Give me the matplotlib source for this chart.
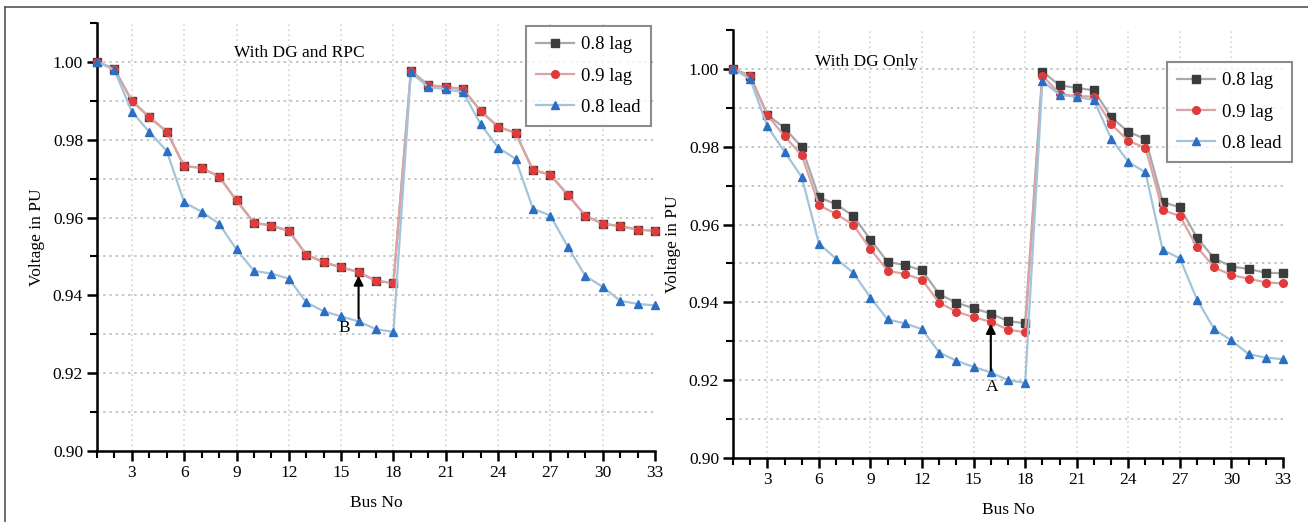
import matplotlib
matplotlib.use("Agg")
import matplotlib.pyplot as plt
from matplotlib.ticker import MultipleLocator, FixedLocator
from matplotlib.lines import Line2D
import numpy as np

plt.rcParams['font.family'] = ['Liberation Serif', 'DejaVu Serif']

bus = list(range(1, 34))

# With DG and RPC
rpc_08lag = [1.000, 0.9982, 0.9900, 0.9858, 0.9821, 0.9732, 0.9728, 0.9705, 0.9644, 0.9587,
             0.9579, 0.9566, 0.9505, 0.9485, 0.9472, 0.9460, 0.9437, 0.9432, 0.9977, 0.9940,
             0.9936, 0.9930, 0.9874, 0.9833, 0.9818, 0.9722, 0.9710, 0.9658, 0.9605, 0.9584,
             0.9578, 0.9569, 0.9566]
rpc_09lag = [1.000, 0.9982, 0.9900, 0.9858, 0.9821, 0.9732, 0.9728, 0.9705, 0.9644, 0.9587,
             0.9579, 0.9566, 0.9505, 0.9485, 0.9472, 0.9460, 0.9437, 0.9432, 0.9977, 0.9940,
             0.9936, 0.9930, 0.9874, 0.9833, 0.9818, 0.9722, 0.9710, 0.9658, 0.9605, 0.9584,
             0.9578, 0.9569, 0.9566]
rpc_08lead = [1.000, 0.9979, 0.9872, 0.9820, 0.9771, 0.9639, 0.9615, 0.9584, 0.9518, 0.9463,
              0.9456, 0.9443, 0.9382, 0.9359, 0.9346, 0.9333, 0.9313, 0.9306, 0.9973, 0.9935,
              0.9930, 0.9922, 0.9840, 0.9780, 0.9751, 0.9623, 0.9605, 0.9525, 0.9450, 0.9422,
              0.9386, 0.9378, 0.9374]

# With DG only
dg_08lag = [1.000, 0.9983, 0.9882, 0.9848, 0.9799, 0.9670, 0.9652, 0.9622, 0.9561, 0.9504,
            0.9496, 0.9482, 0.9421, 0.9399, 0.9385, 0.9371, 0.9352, 0.9346, 0.9993, 0.9958,
            0.9951, 0.9945, 0.9876, 0.9838, 0.9820, 0.9658, 0.9644, 0.9566, 0.9513, 0.9492,
            0.9486, 0.9476, 0.9475]
dg_09lag = [1.000, 0.9981, 0.9881, 0.9827, 0.9778, 0.9650, 0.9627, 0.9599, 0.9537, 0.9481,
            0.9473, 0.9458, 0.9399, 0.9376, 0.9362, 0.9350, 0.9330, 0.9323, 0.9983, 0.9936,
            0.9930, 0.9929, 0.9858, 0.9815, 0.9797, 0.9637, 0.9622, 0.9542, 0.9490, 0.9470,
            0.9461, 0.9451, 0.9449]
dg_08lead = [1.000, 0.9974, 0.9852, 0.9787, 0.9722, 0.9551, 0.9512, 0.9476, 0.9412, 0.9356,
             0.9346, 0.9331, 0.9271, 0.9250, 0.9234, 0.9220, 0.9200, 0.9193, 0.9968, 0.9934,
             0.9928, 0.9920, 0.9821, 0.9761, 0.9734, 0.9535, 0.9513, 0.9407, 0.9331, 0.9302,
             0.9267, 0.9258, 0.9254]

series_labels = ["0.8 lag", "0.9 lag", "0.8 lead"]
xtick_vals = [3, 6, 9, 12, 15, 18, 21, 24, 27, 30, 33]
ytick_vals = [0.90, 0.92, 0.94, 0.96, 0.98, 1.00]

W, H = 1308, 522
fig = plt.figure(figsize=(W / 100, H / 100), dpi=100)

styles = [
    dict(color='#a8a8a8', marker='s', mfc='#3c3c3c', mec='#3c3c3c', ms=5.5, lw=1.6),
    dict(color='#dba3a3', marker='o', mfc='#e03a3a', mec='#e03a3a', ms=5.5, lw=1.6),
    dict(color='#a3c4da', marker='^', mfc='#2a6fc4', mec='#2a6fc4', ms=6, lw=1.6),
]


def setup(ax):
    ax.set_xlim(1, 33)
    ax.set_ylim(0.90, 1.01)
    for s in ['top', 'right']:
        ax.spines[s].set_visible(False)
    for s in ['left', 'bottom']:
        ax.spines[s].set_linewidth(1.8)
    ax.xaxis.set_major_locator(FixedLocator(xtick_vals))
    ax.xaxis.set_minor_locator(MultipleLocator(1))
    ax.yaxis.set_major_locator(FixedLocator(ytick_vals))
    ax.yaxis.set_minor_locator(FixedLocator([0.91, 0.93, 0.95, 0.97, 0.99, 1.01]))
    ax.set_yticklabels([f"{v:.2f}" for v in ytick_vals])
    ax.tick_params(which='major', direction='out', length=7, width=1.8, labelsize=12.5, pad=3)
    ax.tick_params(which='minor', direction='out', length=5, width=1.5)
    for v in [0.91, 0.92, 0.93, 0.94, 0.95, 0.96, 0.97, 0.98, 0.99, 1.00]:
        ax.axhline(v, color='#c4c4c4', lw=1.4, ls=(0, (1.2, 2.0)), zorder=0)
    for v in xtick_vals[:-1]:
        ax.axvline(v, color='#d4d4d4', lw=1.2, ls=(0, (1.0, 2.0)), zorder=0)
    ax.set_xlabel("Bus No", fontsize=12.5, labelpad=10)
    ax.set_ylabel("Voltage in PU", fontsize=12.5, labelpad=6)


ax1 = fig.add_axes([97 / W, 1 - 451 / H, (655 - 97) / W, (451 - 23) / H])
ax2 = fig.add_axes([733 / W, 1 - 458 / H, (1283 - 733) / W, (458 - 30) / H])
for ax in (ax1, ax2):
    setup(ax)

for data, st, lab in zip([rpc_08lag, rpc_09lag, rpc_08lead], styles, series_labels):
    ax1.plot(bus, data, label=lab, clip_on=False, zorder=3, **st)
for data, st, lab in zip([dg_08lag, dg_09lag, dg_08lead], styles, series_labels):
    ax2.plot(bus, data, label=lab, clip_on=False, zorder=3, **st)

ax1.text(0.245, 0.93, "With DG and RPC", transform=ax1.transAxes, fontsize=12.5, ha='left', va='center')
ax2.text(0.15, 0.925, "With DG Only", transform=ax2.transAxes, fontsize=12.5, ha='left', va='center')

ax1.annotate("", xy=(16, 0.9458), xytext=(16, 0.9334),
             arrowprops=dict(arrowstyle='-|>', color='black', lw=1.5, mutation_scale=14), zorder=5)
ax1.text(15.2, 0.9315, "B", fontsize=12.5, ha='center', va='center')
ax2.annotate("", xy=(16, 0.9352), xytext=(16, 0.9218),
             arrowprops=dict(arrowstyle='-|>', color='black', lw=1.5, mutation_scale=14), zorder=5)
ax2.text(16.05, 0.9182, "A", fontsize=12.5, ha='center', va='center')

for ax, anchor in ((ax1, (651 / W, 1 - 26 / H)), (ax2, (1292 / W, 1 - 62 / H))):
    leg = ax.legend(loc='upper right', bbox_to_anchor=anchor, bbox_transform=fig.transFigure,
                    fontsize=13.5, frameon=True, fancybox=False, handlelength=2.0,
                    borderpad=0.55, labelspacing=0.75, handletextpad=0.4, borderaxespad=0)
    leg.get_frame().set_edgecolor('#707070')
    leg.get_frame().set_linewidth(1.5)

# figure frame lines (top and left)
fig.add_artist(Line2D([5 / W, 1.0], [1 - 7 / H, 1 - 7 / H], transform=fig.transFigure, color='#555555', lw=1.2))
fig.add_artist(Line2D([5 / W, 5 / W], [0.0, 1 - 7 / H], transform=fig.transFigure, color='#555555', lw=1.2))

fig.savefig("out.png", dpi=100)
